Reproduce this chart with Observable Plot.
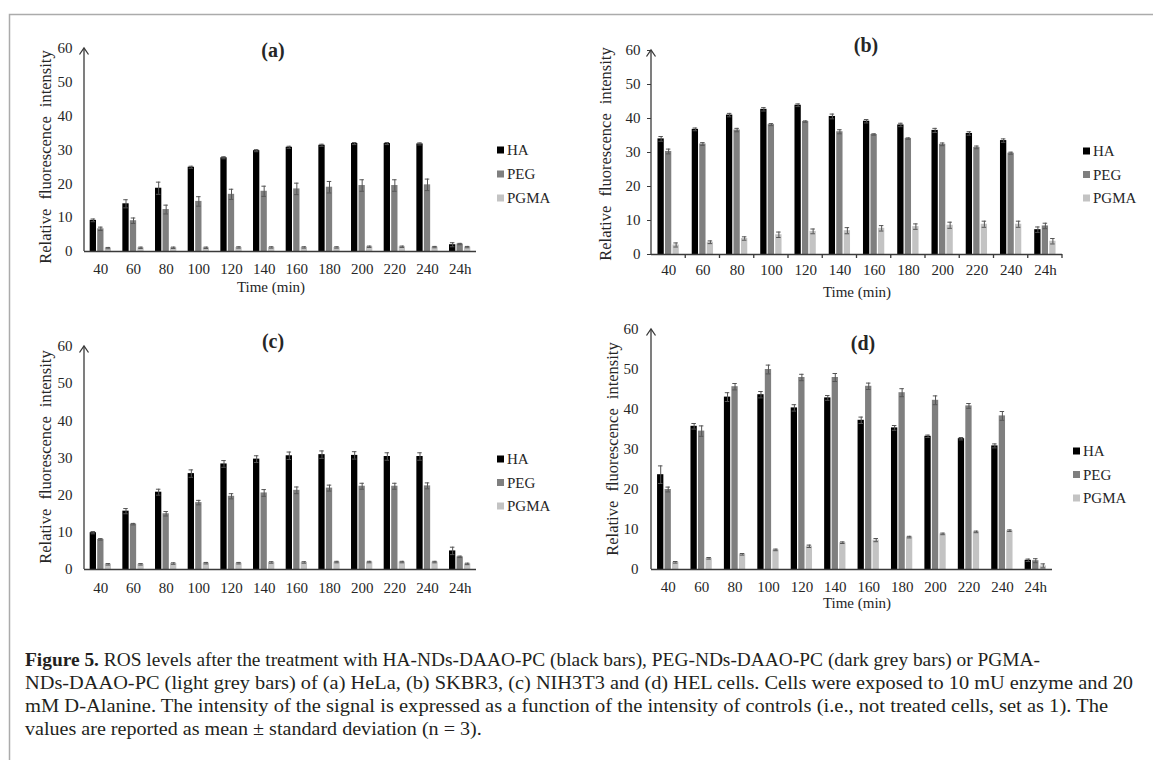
<!DOCTYPE html>
<html><head><meta charset="utf-8">
<script src="https://cdn.jsdelivr.net/npm/d3@7"></script>
<script src="https://cdn.jsdelivr.net/npm/@observablehq/plot@0.6"></script>
<style>
body{margin:0;background:#fff;}
#page{position:relative;width:1153px;height:760px;overflow:hidden;background:#fff;font-family:"Liberation Serif","Times New Roman",serif;}
#page svg{position:absolute;left:0;top:0;}
</style></head><body><div id="page"></div>
<script>
// ---------- data ----------
const times = ["40","60","80","100","120","140","160","180","200","220","240","24h"];
const series = ["HA","PEG","PGMA"];
const colors = ["#000000","#7f7f7f","#c3c3c3"];

// (a) HeLa
const a_HA       = [9.2,14.1,18.7,24.9,27.7,29.8,30.8,31.4,31.9,31.9,31.8,2.0];
const a_HA_err   = [0.4,1.2,1.8,0.3,0.3,0.3,0.3,0.3,0.3,0.3,0.3,0.6];
const a_PEG      = [6.7,9.1,12.4,14.8,16.9,17.8,18.5,19.0,19.5,19.5,19.7,2.2];
const a_PEG_err  = [0.5,0.8,1.3,1.4,1.5,1.5,1.7,1.7,1.7,1.7,1.7,0.2];
const a_PGMA     = [1.0,1.1,1.1,1.1,1.2,1.2,1.2,1.2,1.4,1.4,1.3,1.3];
const a_PGMA_err = [0.2,0.2,0.2,0.2,0.2,0.2,0.2,0.2,0.2,0.2,0.2,0.2];
// (b) SKBR3
const b_HA       = [34.0,36.8,41.0,42.7,43.9,40.6,39.2,38.1,36.5,35.6,33.5,7.3];
const b_HA_err   = [0.7,0.4,0.5,0.5,0.4,0.7,0.5,0.5,0.6,0.5,0.5,0.8];
const b_PEG      = [30.3,32.5,36.6,38.2,39.1,36.1,35.3,34.1,32.4,31.5,29.8,8.4];
const b_PEG_err  = [0.7,0.4,0.5,0.3,0.2,0.6,0.2,0.2,0.4,0.4,0.3,0.8];
const b_PGMA     = [2.8,3.6,4.7,5.8,6.8,7.0,7.7,8.2,8.6,8.9,8.9,3.9];
const b_PGMA_err = [0.6,0.4,0.5,0.8,0.7,0.9,0.8,0.8,0.9,0.9,0.9,0.8];
// (c) NIH3T3
const c_HA       = [9.9,15.7,20.8,25.8,28.4,29.7,30.6,30.9,30.7,30.4,30.4,5.0];
const c_HA_err   = [0.3,0.7,0.8,1.0,0.9,0.9,1.0,1.0,1.0,1.0,1.0,1.0];
const c_PEG      = [8.1,12.2,15.0,18.0,19.7,20.6,21.3,21.9,22.4,22.4,22.5,3.4];
const c_PEG_err  = [0.2,0.2,0.6,0.6,0.7,0.9,0.9,0.8,0.8,0.8,0.8,0.2];
const c_PGMA     = [1.4,1.4,1.6,1.7,1.7,1.9,1.9,2.0,2.0,2.0,2.0,1.5];
const c_PGMA_err = [0.2,0.2,0.2,0.2,0.2,0.2,0.2,0.2,0.2,0.2,0.2,0.2];
// (d) HEL
const d_HA       = [23.7,35.8,43.1,43.7,40.4,42.9,37.3,35.4,33.3,32.7,30.9,2.3];
const d_HA_err   = [2.2,0.7,1.1,0.8,0.8,0.6,0.8,0.6,0.3,0.3,0.5,0.3];
const d_PEG      = [20.0,34.6,45.7,50.0,48.0,48.0,45.8,44.2,42.3,40.9,38.4,2.2];
const d_PEG_err  = [0.6,1.3,0.8,1.1,0.8,1.0,0.8,1.0,1.1,0.6,1.1,0.5];
const d_PGMA     = [1.8,2.8,3.8,4.9,5.8,6.7,7.35,8.1,8.9,9.4,9.7,0.9];
const d_PGMA_err = [0.2,0.2,0.2,0.2,0.3,0.2,0.4,0.2,0.2,0.2,0.2,0.5];

const yTicks = [0,10,20,30,40,50,60];
const panelTitles = ["(a)","(b)","(c)","(d)"];
const yLabel = "Relative fluorescence intensity";
const xLabel = "Time (min)";
const captionBold = "Figure 5.";
const captionLines = [
  " ROS levels after the treatment with HA-NDs-DAAO-PC (black bars), PEG-NDs-DAAO-PC (dark grey bars) or PGMA-",
  "NDs-DAAO-PC (light grey bars) of (a) HeLa, (b) SKBR3, (c) NIH3T3 and (d) HEL cells. Cells were exposed to 10 mU enzyme and 20",
  "mM D-Alanine. The intensity of the signal is expressed as a function of the intensity of controls (i.e., not treated cells, set as 1). The",
  "values are reported as mean \u00b1 standard deviation (n = 3)."
];

// ---------- layout ----------
const W = 1153, H = 760;
const FONT = "'Liberation Serif','Times New Roman',serif";
const panels = [
  {vals:[a_HA,a_PEG,a_PGMA], errs:[a_HA_err,a_PEG_err,a_PGMA_err], x0:84, x1:476, y0:251, y60:48, ticks:false, ytp:12, xtp:12,
   title:[273,50], ylab:[45,157], xlab:[271,287], leg:[497,150,24]},
  {vals:[b_HA,b_PEG,b_PGMA], errs:[b_HA_err,b_PEG_err,b_PGMA_err], x0:651, x1:1062, y0:254, y60:50, ticks:true, ytp:7, xtp:10,
   title:[866,45], ylab:[605,154], xlab:[857,292], leg:[1083,151,23.5]},
  {vals:[c_HA,c_PEG,c_PGMA], errs:[c_HA_err,c_PEG_err,c_PGMA_err], x0:84, x1:476, y0:569, y60:346, ticks:false, ytp:12, xtp:13,
   title:[273,341], ylab:[45,457], xlab:null, leg:[497,459,23.5]},
  {vals:[d_HA,d_PEG,d_PGMA], errs:[d_HA_err,d_PEG_err,d_PGMA_err], x0:651, x1:1052, y0:569, y60:329, ticks:false, ytp:13, xtp:12,
   title:[863,343], ylab:[612,449], xlab:[857,603], leg:[1073,451,23.5]}
];

const page = document.getElementById("page");
const axisColor = "#3a3a3a";
const errColor = "#555555";

panels.forEach((p) => {
  const bw = (p.x1 - p.x0) / times.length;
  const barW = 6.3, off = 7.5;
  const inset = (bw - barW) / 2;
  const capInset = (bw - 4.5) / 2;
  const marks = [];
  const tables = series.map((s, i) => times.map((t, j) => ({time: t, series: s, value: p.vals[i][j], err: p.errs[i][j]})));
  series.forEach((s, i) => {
    const dx = (i - 1) * off;
    marks.push(Plot.barY(tables[i], {x: "time", y: "value", fill: colors[i], insetLeft: inset, insetRight: inset, dx}));
  });
  series.forEach((s, i) => {
    const data = tables[i];
    const dx = (i - 1) * off;
    marks.push(Plot.ruleX(data, {x: "time", y1: d => d.value - d.err, y2: d => d.value + d.err, stroke: errColor, strokeWidth: 1, dx}));
    marks.push(Plot.tickY(data, {x: "time", y: d => d.value + d.err, stroke: errColor, strokeWidth: 1, insetLeft: capInset, insetRight: capInset, dx}));
    marks.push(Plot.tickY(data, {x: "time", y: d => d.value - d.err, stroke: errColor, strokeWidth: 1, insetLeft: capInset, insetRight: capInset, dx}));
  });
  marks.push(Plot.ruleY([0], {stroke: axisColor, strokeWidth: 1.3}));
  // y axis line with open arrowhead, plus optional group-boundary ticks
  marks.push((index, scales, values, dims) => {
    const g = d3.create("svg:g").attr("stroke", axisColor).attr("fill", "none").attr("stroke-width", 1.3);
    const x = dims.marginLeft, yb = scales.y(0), yt = scales.y(60);
    g.append("line").attr("x1", x).attr("x2", x).attr("y1", yb).attr("y2", yt);
    g.append("path").attr("d", `M${x-4.5},${yt+6.5}L${x},${yt}L${x+4.5},${yt+6.5}`);
    if (p.ticks) {
      const xs = times.map(t => scales.x(t)).concat([dims.width - dims.marginRight]);
      xs.slice(1).forEach(xx => g.append("line").attr("x1", xx).attr("x2", xx).attr("y1", yb).attr("y2", yb + 4));
    }
    return g.node();
  });
  marks.push(Plot.axisY({ticks: yTicks, tickSize: p.ticks ? 4 : 0, tickPadding: p.ytp, label: null, stroke: axisColor}));
  marks.push(Plot.axisX({tickSize: 0, tickPadding: p.xtp, label: null}));

  const chart = Plot.plot({
    width: W, height: H,
    marginLeft: p.x0, marginRight: W - p.x1, marginTop: p.y60, marginBottom: H - p.y0,
    x: {type: "band", domain: times, padding: 0, round: false},
    y: {domain: [0, 60]},
    style: {fontSize: "15px", fontFamily: FONT, color: "#262626", background: "transparent", overflow: "visible"},
    marks
  });
  page.appendChild(chart);
});

// ---------- overlay: border, titles, axis labels, legends, caption ----------
const ov = d3.select(page).append("svg").attr("width", W).attr("height", H)
  .style("font-family", FONT).attr("fill", "#262626");
ov.append("path").attr("d", `M9.5,${H}V14.5H${W}`).attr("fill", "none").attr("stroke", "#ababab").attr("stroke-width", 1.5);

panels.forEach((p, k) => {
  ov.append("text").attr("x", p.title[0]).attr("y", p.title[1]).attr("dy", "0.35em")
    .attr("text-anchor", "middle").attr("font-weight", "bold").attr("font-size", 20).text(panelTitles[k]);
  ov.append("text").attr("transform", `translate(${p.ylab[0]},${p.ylab[1]}) rotate(-90)`).attr("dy", "0.35em")
    .attr("text-anchor", "middle").attr("font-size", 16.5).style("word-spacing", "5px").text(yLabel);
  if (p.xlab) ov.append("text").attr("x", p.xlab[0]).attr("y", p.xlab[1]).attr("dy", "0.35em")
    .attr("text-anchor", "middle").attr("font-size", 15).text(xLabel);
  series.forEach((s, i) => {
    const y = p.leg[1] + i * p.leg[2];
    ov.append("rect").attr("x", p.leg[0]).attr("y", y - 3.5).attr("width", 7).attr("height", 7).attr("fill", colors[i]);
    ov.append("text").attr("x", p.leg[0] + 10).attr("y", y).attr("dy", "0.35em").attr("font-size", 15).text(s);
  });
});

const capX = 25, capBase = [666, 689, 712, 735], capEnd = [1040, 1133, 1108, null];
const capNodes = captionLines.map((line, i) => {
  const t = ov.append("text").attr("x", capX).attr("y", capBase[i]).attr("font-size", 18.5).attr("fill", "#231f20");
  if (i === 0) t.append("tspan").attr("font-weight", "bold").text(captionBold);
  t.append("tspan").text(line);
  return t;
});
const ratios = [];
capNodes.forEach((t, i) => {
  const nat = t.node().getComputedTextLength();
  if (capEnd[i] != null) { ratios.push((capEnd[i] - capX) / nat); t.attr("textLength", capEnd[i] - capX).attr("lengthAdjust", "spacingAndGlyphs"); }
  else { const r = d3.mean(ratios); t.attr("textLength", nat * r).attr("lengthAdjust", "spacingAndGlyphs"); }
});
</script>
</body></html>
